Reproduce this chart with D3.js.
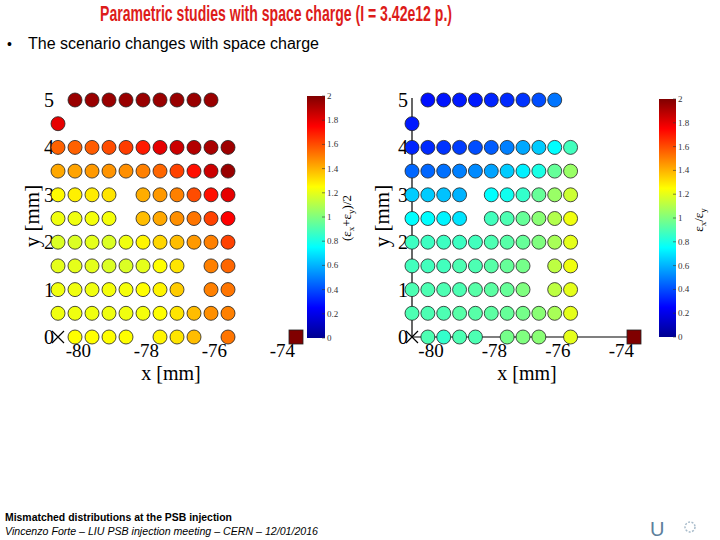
<!DOCTYPE html>
<html>
<head>
<meta charset="utf-8">
<script src="https://cdn.jsdelivr.net/npm/d3@7"></script>
<style>
  body { margin: 0; background: #fff; }
  svg { display: block; }
</style>
</head>
<body>
<svg width="720" height="540"></svg>
<script>
// grid of starting positions (mm)
const xCols = [-80.6, -80.1, -79.6, -79.1, -78.6, -78.1, -77.6, -77.1, -76.6, -76.1, -75.6];
const yRows = [0, 0.5, 1, 1.5, 2, 2.5, 3, 3.5, 4, 4.5, 5];

// (ex+ey)/2, one row per y value, null = no point
const emitMean = [
  [null, 1.25, 1.25, 1.25, 1.25, null, 1.27, 1.30, 1.38, null, 1.52],
  [1.22, 1.22, 1.22, 1.22, 1.22, 1.23, 1.25, 1.30, 1.38, 1.47, 1.50],
  [1.22, 1.22, 1.22, 1.23, 1.23, 1.25, 1.27, 1.35, null, 1.50, 1.52],
  [1.20, 1.20, 1.20, 1.18, 1.18, 1.20, 1.25, 1.30, null, 1.50, 1.55],
  [1.18, 1.18, 1.20, 1.18, 1.22, 1.27, 1.33, 1.38, 1.45, 1.50, 1.62],
  [1.22, 1.22, 1.23, 1.23, null, 1.38, 1.42, 1.47, 1.52, 1.62, 1.75],
  [1.26, 1.28, 1.29, 1.30, null, 1.41, 1.45, 1.50, 1.60, 1.72, 1.80],
  [1.42, 1.43, 1.45, 1.46, 1.47, 1.50, 1.55, 1.62, 1.72, 1.85, 1.95],
  [1.56, 1.56, 1.57, 1.60, 1.63, 1.70, 1.80, 1.85, 1.90, 1.92, 1.94],
  [1.80, null, null, null, null, null, null, null, null, null, null],
  [null, 1.95, 1.95, 1.95, 1.95, 1.95, 1.95, 1.95, 1.95, 1.95, null]
];

// ex/ey
const emitRatio = [
  [null, 0.90, 0.85, 0.90, 0.90, null, 0.98, 1.00, 1.02, null, 1.20],
  [0.90, 0.90, 0.90, 0.92, 0.92, 0.93, 0.95, 0.98, 1.02, 1.08, 1.20],
  [0.90, 0.90, 0.90, 0.90, 0.92, 0.93, 0.95, 1.00, null, 1.12, 1.20],
  [0.88, 0.88, 0.88, 0.90, 0.90, 0.92, 0.95, 0.98, null, 1.12, 1.22],
  [0.87, 0.87, 0.87, 0.87, 0.88, 0.90, 0.92, 0.95, 1.00, 1.08, 1.20],
  [0.75, 0.75, 0.73, 0.70, null, 0.88, 0.90, 0.95, 1.02, 1.10, 1.22],
  [0.65, 0.65, 0.63, 0.60, null, 0.75, 0.78, 0.85, 0.95, 1.05, 1.15],
  [0.45, 0.45, 0.47, 0.50, 0.52, 0.57, 0.65, 0.72, 0.80, 0.95, 1.05],
  [0.32, 0.33, 0.35, 0.37, 0.40, 0.43, 0.50, 0.58, 0.65, 0.75, 0.88],
  [0.30, null, null, null, null, null, null, null, null, null, null],
  [null, 0.28, 0.29, 0.30, 0.30, 0.32, 0.33, 0.35, 0.40, 0.48, null]
];

const originMark = [-80.6, 0];   // black x marker
const refPoint = [-73.6, 0];     // square marker
const refValue = 2;

const xTicks = [-80, -78, -76, -74];
const yTicks = [0, 1, 2, 3, 4, 5];
const cbTicks = [0, 0.2, 0.4, 0.6, 0.8, 1, 1.2, 1.4, 1.6, 1.8, 2];

const svg = d3.select('svg');
const serif = "'Liberation Serif', 'DejaVu Serif', serif";
const sans = "'Liberation Sans Narrow', 'Liberation Sans', Arial, sans-serif";

// jet colormap
const jet = d3.scaleLinear()
  .domain([0, 0.25, 0.75, 1.25, 1.75, 2])
  .range(['#000090', '#0000ff', '#00ffff', '#ffff00', '#ff0000', '#800000'])
  .clamp(true);

// header
svg.append('text')
  .attr('x', 100).attr('y', 21)
  .attr('font-family', sans).attr('font-weight', 'bold').attr('font-size', 22)
  .attr('fill', '#dd1c1a')
  .attr('textLength', 352).attr('lengthAdjust', 'spacingAndGlyphs')
  .text('Parametric studies with space charge (I = 3.42e12 p.)');

svg.append('text')
  .attr('x', 7).attr('y', 49)
  .attr('font-family', sans).attr('font-size', 14)
  .text('•');
svg.append('text')
  .attr('x', 28).attr('y', 49)
  .attr('font-family', sans).attr('font-size', 16)
  .attr('textLength', 291).attr('lengthAdjust', 'spacingAndGlyphs')
  .text('The scenario changes with space charge');

// footer
svg.append('text')
  .attr('x', 5).attr('y', 521)
  .attr('font-family', sans).attr('font-weight', 'bold').attr('font-size', 11)
  .attr('textLength', 227).attr('lengthAdjust', 'spacingAndGlyphs')
  .text('Mismatched distributions at the PSB injection');
svg.append('text')
  .attr('x', 5).attr('y', 535)
  .attr('font-family', sans).attr('font-style', 'italic').attr('font-size', 11)
  .attr('textLength', 313).attr('lengthAdjust', 'spacingAndGlyphs')
  .text('Vincenzo Forte – LIU PSB injection meeting – CERN – 12/01/2016');

// small logos
svg.append('text')
  .attr('x', 650).attr('y', 536)
  .attr('font-family', sans).attr('font-size', 20)
  .attr('fill', '#5d7f9c')
  .text('U');
svg.append('circle')
  .attr('cx', 690).attr('cy', 527).attr('r', 5)
  .attr('fill', 'none').attr('stroke', '#a9bccb').attr('stroke-width', 1.5)
  .attr('stroke-dasharray', '2,1.5');

function drawPanel(opts) {
  const x = d3.scaleLinear().domain([-80.6, -73.6]).range(opts.xRange);
  const y = d3.scaleLinear().domain([0, 5]).range([337, 100]);
  const g = svg.append('g');

  if (opts.axisLines) {
    g.append('line')
      .attr('x1', x(-80.6)).attr('x2', x(-80.6))
      .attr('y1', y(0)).attr('y2', y(5) - 2)
      .attr('stroke', '#000').attr('stroke-width', 1.2);
    g.append('line')
      .attr('x1', x(-80.6)).attr('x2', x(-73.4))
      .attr('y1', y(0)).attr('y2', y(0))
      .attr('stroke', '#000').attr('stroke-width', 1.2);
  }

  // y ticks
  g.selectAll('.ytick').data(yTicks).join('text')
    .attr('x', x(-80.6) - 4)
    .attr('y', d => y(d) + 7)
    .attr('text-anchor', 'end')
    .attr('font-family', serif).attr('font-size', 20)
    .text(d => d);

  // x ticks
  g.selectAll('.xtick').data(xTicks).join('text')
    .attr('x', d => x(d))
    .attr('y', 357)
    .attr('text-anchor', 'middle')
    .attr('font-family', serif).attr('font-size', 19)
    .text(d => d);

  g.append('text')
    .attr('x', opts.xLabelX).attr('y', 380)
    .attr('text-anchor', 'middle')
    .attr('font-family', serif).attr('font-size', 20)
    .text('x [mm]');
  g.append('text')
    .attr('transform', `translate(${opts.yLabelX},216) rotate(-90)`)
    .attr('text-anchor', 'middle')
    .attr('font-family', serif).attr('font-size', 21)
    .text('y [mm]');

  // points
  const pts = [];
  opts.values.forEach((row, i) => row.forEach((v, j) => {
    if (v !== null) pts.push({ x: xCols[j], y: yRows[i], v: v });
  }));
  g.selectAll('circle.pt').data(pts).join('circle')
    .attr('class', 'pt')
    .attr('cx', d => x(d.x))
    .attr('cy', d => y(d.y))
    .attr('r', 7)
    .attr('fill', d => jet(d.v))
    .attr('stroke', '#222').attr('stroke-width', 0.8);

  // origin marker
  const ox = x(originMark[0]), oy = y(originMark[1]);
  g.append('path')
    .attr('d', `M${ox - 6},${oy - 6}L${ox + 6},${oy + 6}M${ox - 6},${oy + 6}L${ox + 6},${oy - 6}`)
    .attr('stroke', '#000').attr('stroke-width', 1.2);

  // reference square
  g.append('rect')
    .attr('x', x(refPoint[0]) - 7).attr('y', y(refPoint[1]) - 7)
    .attr('width', 14).attr('height', 14)
    .attr('fill', jet(refValue))
    .attr('stroke', '#222').attr('stroke-width', 0.8);

  // colorbar
  const cb = opts.cb;
  const cy = d3.scaleLinear().domain([0, 2]).range([cb.y1, cb.y0]);
  const gradId = 'grad' + opts.id;
  const grad = svg.append('defs').append('linearGradient')
    .attr('id', gradId)
    .attr('x1', 0).attr('y1', 1).attr('x2', 0).attr('y2', 0);
  grad.selectAll('stop').data(jet.domain()).join('stop')
    .attr('offset', d => d / 2)
    .attr('stop-color', d => jet(d));
  g.append('rect')
    .attr('x', cb.x).attr('y', cb.y0)
    .attr('width', cb.w).attr('height', cb.y1 - cb.y0)
    .attr('fill', `url(#${gradId})`);
  g.selectAll('.cbtick').data(cbTicks).join('line')
    .attr('x1', cb.x + cb.w - 3).attr('x2', cb.x + cb.w)
    .attr('y1', d => cy(d)).attr('y2', d => cy(d))
    .attr('stroke', '#333').attr('stroke-width', 0.6);
  g.selectAll('.cblab').data(cbTicks).join('text')
    .attr('x', cb.x + cb.w + 2)
    .attr('y', d => cy(d) + 3)
    .attr('font-family', serif).attr('font-size', 9)
    .attr('fill', '#333')
    .text(d => d);

  const lab = g.append('text')
    .attr('transform', `translate(${cb.labelX},${cb.labelY}) rotate(-90)`)
    .attr('text-anchor', 'middle')
    .attr('font-family', serif).attr('font-size', 13);
  opts.cbLabel.forEach(p => {
    lab.append('tspan')
      .attr('dy', p.sub ? 3 : (p.back ? -3 : 0))
      .attr('font-size', p.sub ? 9 : 13)
      .text(p.t);
  });
}

drawPanel({
  id: 'L',
  values: emitMean,
  xRange: [58, 296],
  axisLines: false,
  xLabelX: 171,
  yLabelX: 39,
  cb: { x: 307, w: 18, y0: 96, y1: 338, labelX: 351, labelY: 218 },
  cbLabel: [
    { t: '(ε' }, { t: 'x', sub: true }, { t: '+ε', back: true },
    { t: 'y', sub: true }, { t: ')/2', back: true }
  ]
});

drawPanel({
  id: 'R',
  values: emitRatio,
  xRange: [412, 634],
  axisLines: true,
  xLabelX: 527,
  yLabelX: 389,
  cb: { x: 659, w: 17, y0: 99, y1: 337, labelX: 703, labelY: 220 },
  cbLabel: [
    { t: 'ε' }, { t: 'x', sub: true }, { t: '/ε', back: true },
    { t: 'y', sub: true }
  ]
});
</script>
</body>
</html>
